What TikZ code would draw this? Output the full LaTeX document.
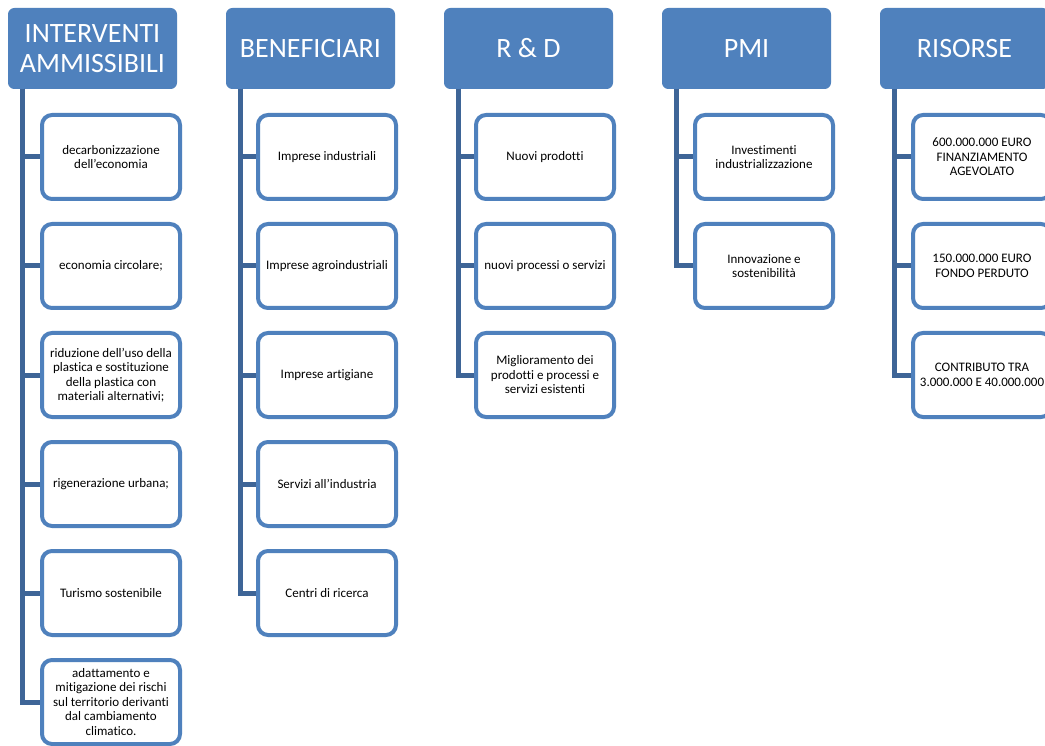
\documentclass[tikz,border=0pt]{standalone}
\usepackage{fontspec}
\setmainfont{Carlito}[Ligatures={NoCommon,NoRare}]
\definecolor{hdrblue}{RGB}{79,129,189}
\definecolor{boxblue}{RGB}{79,129,189}
\definecolor{linkblue}{RGB}{62,101,151}
\begin{document}
\begin{tikzpicture}[x=1pt,y=-1pt,
  hdr/.style={rectangle, rounded corners=6pt, fill=hdrblue, draw=hdrblue, line width=1pt,
    minimum width=168pt, minimum height=80pt, text=white, align=center,
    font=\fontsize{28}{30}\selectfont, inner sep=0pt},
  item/.style={rectangle, rounded corners=10pt, fill=white, draw=boxblue, line width=4pt,
    minimum width=138pt, minimum height=84pt, align=center,
    font=\fontsize{13}{14.5}\selectfont, inner sep=0pt},
  link/.style={draw=linkblue, line width=5pt}]
\clip (0,0) rectangle (1045,746);
\fill[white] (0,0) rectangle (1045,746);
% headers
\node[hdr] (h1) at (92.5,48.5) {INTERVENTI\\AMMISSIBILI};
\node[hdr] (h2) at (310.5,48.5) {BENEFICIARI};
\node[hdr] (h3) at (528.5,48.5) {R \& D};
\node[hdr] (h4) at (746.5,48.5) {PMI};
\node[hdr] (h5) at (964.5,48.5) {RISORSE};
% column 1
\node[item] (a1) at (111,157) {decarbonizzazione\\dell’economia};
\node[item] (a2) at (111,266) {economia circolare;};
\node[item] (a3) at (111,375) {riduzione dell’uso della\\plastica e sostituzione\\della plastica con\\materiali alternativi;};
\node[item] (a4) at (111,484) {rigenerazione urbana;};
\node[item] (a5) at (111,593) {Turismo sostenibile};
\node[item] (a6) at (111,702) {adattamento e\\mitigazione dei rischi\\sul territorio derivanti\\dal cambiamento\\climatico.};
% column 2
\node[item] (b1) at (327,157) {Imprese industriali};
\node[item] (b2) at (327,266) {Imprese agroindustriali};
\node[item] (b3) at (327,375) {Imprese artigiane};
\node[item] (b4) at (327,484) {Servizi all’industria};
\node[item] (b5) at (327,593) {Centri di ricerca};
% column 3
\node[item] (c1) at (545,157) {Nuovi prodotti};
\node[item] (c2) at (545,266) {nuovi processi o servizi};
\node[item] (c3) at (545,375) {Miglioramento dei\\prodotti e processi e\\servizi esistenti};
% column 4
\node[item] (d1) at (764,157) {Investimenti\\industrializzazione};
\node[item] (d2) at (764,266) {Innovazione e\\sostenibilità};
% column 5
\node[item] (e1) at (982,157) {600.000.000 EURO\\FINANZIAMENTO\\AGEVOLATO};
\node[item] (e2) at (982,266) {150.000.000 EURO\\FONDO PERDUTO};
\node[item] (e3) at (982,375) {CONTRIBUTO TRA\\3.000.000 E 40.000.000};
% connectors
\foreach \c in {a1,a2,a3,a4,a5,a6}
  \draw[link] ([xshift=14.5pt]h1.south west) |- (\c.west);
\foreach \c in {b1,b2,b3,b4,b5}
  \draw[link] ([xshift=14pt]h2.south west) |- (\c.west);
\foreach \c in {c1,c2,c3}
  \draw[link] ([xshift=14pt]h3.south west) |- (\c.west);
\foreach \c in {d1,d2}
  \draw[link] ([xshift=14.5pt]h4.south west) |- (\c.west);
\foreach \c in {e1,e2,e3}
  \draw[link] ([xshift=14.5pt]h5.south west) |- (\c.west);
\end{tikzpicture}
\end{document}
